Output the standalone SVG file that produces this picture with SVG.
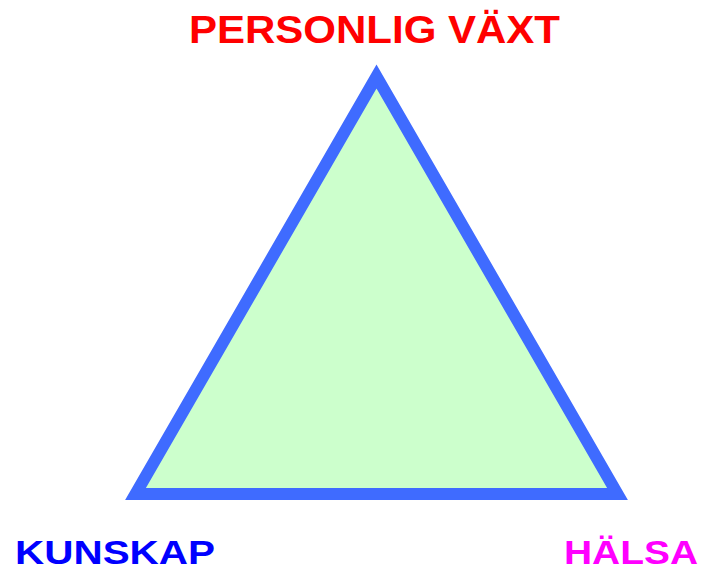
<svg xmlns="http://www.w3.org/2000/svg" width="708" height="572" viewBox="0 0 708 572">
<style>
.lbl{font-family:"Liberation Sans",Arial,sans-serif;font-weight:bold;}
</style>
<rect width="708" height="572" fill="#ffffff"/>
<g id="triangle">
<polygon points="376.5,76.5 135.5,494 617.5,494" fill="#ccffcc" stroke="#3f6bff" stroke-width="12" stroke-linejoin="miter" stroke-miterlimit="10"/>
</g>
<g id="connectors"></g>
<g id="label-top"><text class="lbl" x="189" y="43" font-size="38" fill="#ff0000" textLength="371" lengthAdjust="spacingAndGlyphs">PERSONLIG VÄXT</text></g>
<g id="label-left"><text class="lbl" x="15" y="564" font-size="34" fill="#0000ff" textLength="200" lengthAdjust="spacingAndGlyphs">KUNSKAP</text></g>
<g id="label-right"><text class="lbl" x="564" y="564" font-size="34" fill="#ff00ff" textLength="134" lengthAdjust="spacingAndGlyphs">HÄLSA</text></g>
</svg>
